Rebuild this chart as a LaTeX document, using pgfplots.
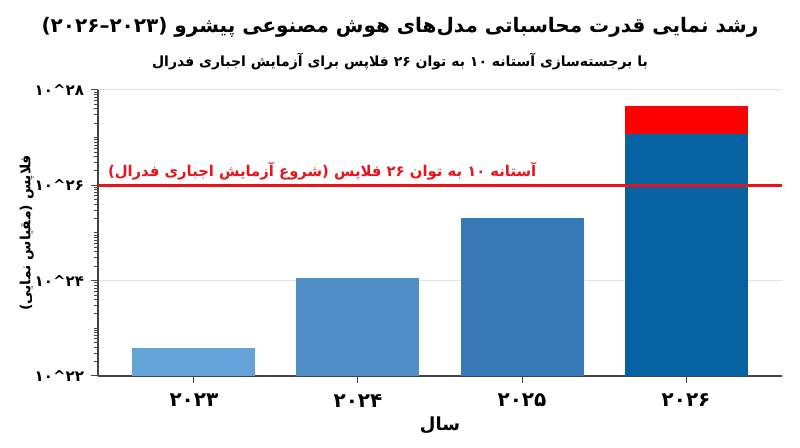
\documentclass[border=0pt]{standalone}
\usepackage{fontspec}
\usepackage{pgfplots}
\pgfplotsset{compat=1.18}
\setmainfont{DejaVu Sans}
\newfontfamily\fa[Script=Arabic]{DejaVu Sans}
\newfontfamily\fanum{DejaVu Sans}
\TeXXeTstate=1
\definecolor{b23}{HTML}{64A3D7}
\definecolor{b24}{HTML}{4F8EC6}
\definecolor{b25}{HTML}{3679B6}
\definecolor{b26}{HTML}{0762A4}
\definecolor{topred}{HTML}{FF0000}
\definecolor{thr}{HTML}{E8141B}
\definecolor{axisgray}{HTML}{444444}
\definecolor{gridgray}{HTML}{E2E2E2}

\begin{document}
\begin{tikzpicture}
\useasboundingbox (0,0) rectangle (400pt,223.5pt);

% title and subtitle
\node[font=\fa\bfseries\fontsize{10}{12}\selectfont] at (200pt,210pt)
  {\beginR رشد نمایی قدرت محاسباتی مدل‌های هوش مصنوعی پیشرو (۲۰۲۳–۲۰۲۶)\endR};
\node[font=\fa\bfseries\fontsize{7}{9}\selectfont] at (200pt,192.5pt)
  {\beginR با برجسته‌سازی آستانه ۱۰ به توان ۲۶ فلاپس برای آزمایش اجباری فدرال\endR};

\begin{axis}[
  at={(49pt,35.5pt)}, anchor=south west,
  scale only axis, width=342pt, height=143pt,
  ymode=log, ymin=1e22, ymax=1e28,
  xmin=-0.585, xmax=3.585,
  axis lines*=left,
  axis line style={draw=axisgray, line width=0.6pt, -},
  tick align=outside,
  major tick length=3.5pt, minor tick length=2pt,
  tick style={axisgray, line width=0.5pt},
  xtick={0,1,2,3},
  xticklabels={۲۰۲۳,۲۰۲۴,۲۰۲۵,۲۰۲۶},
  xticklabel style={font=\fanum\bfseries\fontsize{10}{12}\selectfont, yshift=-2pt},
  ytick={1e22,1e24,1e26,1e28},
  yticklabels={۱۰\textasciicircum۲۲,۱۰\textasciicircum۲۴,۱۰\textasciicircum۲۶,۱۰\textasciicircum۲۸},
  yticklabel style={font=\fanum\bfseries\fontsize{7.5}{9}\selectfont},
  minor ytick={2e22,3e22,4e22,5e22,6e22,7e22,8e22,9e22,
               1e23,2e23,3e23,4e23,5e23,6e23,7e23,8e23,9e23,
               2e24,3e24,4e24,5e24,6e24,7e24,8e24,9e24,
               1e25,2e25,3e25,4e25,5e25,6e25,7e25,8e25,9e25,
               2e26,3e26,4e26,5e26,6e26,7e26,8e26,9e26,
               1e27,2e27,3e27,4e27,5e27,6e27,7e27,8e27,9e27},
  ymajorgrids,
  major grid style={gridgray, line width=0.5pt},
  xlabel={\beginR سال\endR},
  xlabel style={font=\fa\bfseries\fontsize{9}{11}\selectfont, yshift=2pt},
  ylabel={\beginR فلاپس (مقیاس نمایی)\endR},
  ylabel style={font=\fa\bfseries\fontsize{7}{9}\selectfont,
                at={(axis description cs:-0.104,0.5)}, anchor=center},
  log origin=infty,
]
\addplot[ybar, bar width=0.75, bar shift=0pt, fill=b23, draw=none] coordinates {(0,3.9e22)};
\addplot[ybar, bar width=0.75, bar shift=0pt, fill=b24, draw=none] coordinates {(1,1.15e24)};
\addplot[ybar, bar width=0.75, bar shift=0pt, fill=b25, draw=none] coordinates {(2,2.1e25)};
\addplot[ybar, bar width=0.75, bar shift=0pt, fill=topred, draw=none] coordinates {(3,4.6e27)};
\addplot[ybar, bar width=0.75, bar shift=0pt, fill=b26, draw=none] coordinates {(3,1.2e27)};
% threshold line
\addplot[thr, line width=1.3pt] coordinates {(-0.585,1e26) (3.585,1e26)};
\node[anchor=base west, text=thr, font=\fa\bfseries\fontsize{7.4}{9}\selectfont]
  at (axis cs:-0.567,1e26) [yshift=4.5pt]
  {\beginR آستانه ۱۰ به توان ۲۶ فلاپس (شروع آزمایش اجباری فدرال)\endR};
\end{axis}
\end{tikzpicture}
\end{document}
